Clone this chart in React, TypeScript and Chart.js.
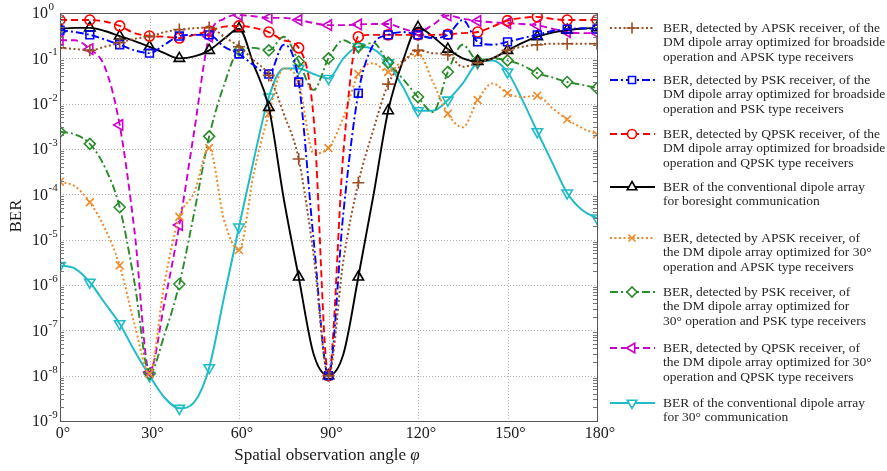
import React, { useEffect, useRef } from 'react';
import { Chart, registerables } from 'chart.js';
import { drawPoint } from 'chart.js/helpers';

Chart.register(...registerables);

// Spatial observation angle (degrees), sampled every 5°; markers at every 10°
const angles = [0, 5, 10, 15, 20, 25, 30, 35, 40, 45, 50, 55, 60, 65, 70, 75, 80, 85, 90, 95, 100, 105, 110, 115, 120, 125, 130, 135, 140, 145, 150, 155, 160, 165, 170, 175, 180];
const xTickValues = [0, 30, 60, 90, 120, 150, 180];
const xTickLabels = ['0°', '30°', '60°', '90°', '120°', '150°', '180°'];
const yDecadeExponents = [0, -1, -2, -3, -4, -5, -6, -7, -8, -9];

const berApskBroadside = [0.17, 0.16, 0.15, 0.18, 0.22, 0.27, 0.3, 0.38, 0.43, 0.46, 0.48, 0.3, 0.18, 0.09, 0.042, 0.006, 6e-4, 4.6e-6, 1e-8, 3.5e-6, 1.8e-4, 2.6e-3, 0.027, 0.08, 0.15, 0.13, 0.12, 0.065, 0.08, 0.1, 0.15, 0.18, 0.2, 0.21, 0.21, 0.21, 0.21];
const berPskBroadside = [0.42, 0.38, 0.33, 0.26, 0.2, 0.15, 0.13, 0.2, 0.31, 0.33, 0.33, 0.18, 0.125, 0.07, 0.045, 0.2, 0.03, 1e-5, 1e-8, 4e-5, 0.017, 0.2, 0.33, 0.38, 0.33, 0.28, 0.33, 0.7, 0.23, 0.2, 0.23, 0.28, 0.33, 0.4, 0.44, 0.46, 0.44];
const berQpskBroadside = [0.7, 0.7, 0.7, 0.65, 0.52, 0.36, 0.31, 0.3, 0.28, 0.33, 0.4, 0.5, 0.52, 0.47, 0.38, 0.25, 0.17, 5e-3, 1e-8, 8.5e-4, 0.3, 0.33, 0.33, 0.33, 0.33, 0.33, 0.34, 0.36, 0.38, 0.5, 0.68, 0.78, 0.82, 0.74, 0.7, 0.7, 0.7];
const berConvBoresight = [0.45, 0.47, 0.47, 0.4, 0.31, 0.24, 0.18, 0.13, 0.1, 0.11, 0.15, 0.27, 0.45, 0.07, 0.0083, 8e-5, 1.5e-6, 3e-8, 1e-8, 3e-8, 1.5e-6, 9e-5, 0.007, 0.09, 0.48, 0.3, 0.16, 0.1, 0.085, 0.1, 0.15, 0.22, 0.3, 0.37, 0.42, 0.45, 0.47];
const berApsk30 = [1.9e-4, 1.5e-4, 6.7e-5, 1.8e-5, 2.7e-6, 1.35e-7, 1.1e-8, 1.1e-6, 3.2e-5, 1.1e-4, 1.05e-3, 2.7e-5, 5.9e-6, 3e-4, 6e-3, 0.06, 0.03, 8e-4, 1.05e-3, 5e-3, 0.045, 0.078, 0.05, 0.09, 0.13, 0.03, 6e-3, 3e-3, 0.012, 0.028, 0.017, 0.014, 0.015, 8e-3, 4.5e-3, 2.9e-3, 2.1e-3];
const berPsk30 = [2.4e-3, 2.1e-3, 1.3e-3, 4e-4, 5.2e-5, 1.1e-6, 1.1e-8, 8e-8, 1.05e-6, 4e-5, 1.9e-3, 0.026, 0.15, 0.17, 0.15, 0.3, 0.085, 0.02, 0.1, 0.25, 0.18, 0.22, 0.08, 0.035, 0.014, 6.5e-3, 0.05, 0.2, 0.09, 0.1, 0.09, 0.07, 0.047, 0.038, 0.03, 0.026, 0.022];
const berQpsk30 = [0.25, 0.25, 0.16, 0.065, 3.4e-3, 1.5e-5, 1.2e-8, 4e-7, 2.1e-5, 2.5e-3, 0.3, 0.75, 0.9, 0.85, 0.78, 0.78, 0.7, 0.6, 0.54, 0.54, 0.56, 0.57, 0.57, 0.45, 0.38, 0.55, 0.88, 0.75, 0.67, 0.62, 0.6, 0.57, 0.54, 0.45, 0.38, 0.36, 0.36];
const berConv30 = [2.7e-6, 2.3e-6, 1.15e-6, 4e-7, 1.4e-7, 3.5e-8, 1e-8, 3.3e-9, 1.9e-9, 2.6e-9, 1.5e-8, 5.4e-7, 1.9e-5, 6e-4, 0.014, 0.06, 0.06, 0.045, 0.036, 0.1, 0.18, 0.16, 0.08, 0.023, 7e-3, 7e-3, 0.012, 0.028, 0.08, 0.09, 0.05, 0.012, 2.4e-3, 5e-4, 1.07e-4, 4.5e-5, 3e-5];

const legendTexts = [
  ['BER, detected by APSK receiver, of the', 'DM dipole array optimized for broadside', 'operation and APSK type receivers'],
  ['BER, detected by PSK receiver, of the', 'DM dipole array optimized for broadside', 'operation and PSK type receivers'],
  ['BER, detected by QPSK receiver, of the', 'DM dipole array optimized for broadside', 'operation and QPSK type receivers'],
  ['BER of the conventional dipole array', 'for boresight communication'],
  ['BER, detected by APSK receiver, of', 'the DM dipole array optimized for 30°', 'operation and APSK type receivers'],
  ['BER, detected by PSK receiver, of', 'the DM dipole array optimized for', '30° operation and PSK type receivers'],
  ['BER, detected by QPSK receiver, of', 'the DM dipole array optimized for 30°', 'operation and QPSK type receivers'],
  ['BER of the conventional dipole array', 'for 30° communication'],
];

const seriesValues = [berApskBroadside, berPskBroadside, berQpskBroadside, berConvBoresight, berApsk30, berPsk30, berQpsk30, berConv30];

const DOT = [2, 2.5];
const DASH = [7, 4];
const DASHDOT = [8, 3, 2, 3];
const styles = [
  { color: '#9A4E24', dash: DOT, point: 'cross', rot: 0, r: 6, w: 2 },
  { color: '#0000FF', dash: DASHDOT, point: 'rect', rot: 0, r: 5.5, w: 1.9 },
  { color: '#FF0000', dash: DASH, point: 'circle', rot: 0, r: 5, w: 1.9 },
  { color: '#000000', dash: [], point: 'triangle', rot: 0, r: 6, w: 1.9 },
  { color: '#EE8A2A', dash: DOT, point: 'crossRot', rot: 0, r: 5.5, w: 2 },
  { color: '#2A8C2A', dash: DASHDOT, point: 'rectRot', rot: 0, r: 5.5, w: 1.9 },
  { color: '#CC00CC', dash: DASH, point: 'triangle', rot: -90, r: 6, w: 1.9 },
  { color: '#20BCC8', dash: [], point: 'triangle', rot: 180, r: 6, w: 2 },
];

const SERIF = '"Liberation Serif", "DejaVu Serif", serif';
const legendFirstLineY = [28, 80, 134, 187, 238, 292, 348, 403];

const decorPlugin = {
  id: 'decor',
  beforeDatasetsDraw(chart: any) {
    const { ctx, chartArea: a, scales } = chart;
    const x = scales.x, y = scales.y;
    ctx.save();
    ctx.strokeStyle = '#b4b4b4';
    ctx.lineWidth = 1;
    ctx.setLineDash([1, 2]);
    for (const t of xTickValues) {
      const px = Math.round(x.getPixelForValue(t)) + 0.5;
      ctx.beginPath(); ctx.moveTo(px, a.top); ctx.lineTo(px, a.bottom); ctx.stroke();
    }
    for (const d of yDecadeExponents) {
      const py = Math.round(y.getPixelForValue(Math.pow(10, d))) + 0.5;
      ctx.beginPath(); ctx.moveTo(a.left, py); ctx.lineTo(a.right, py); ctx.stroke();
    }
    ctx.restore();
  },
  afterDatasetsDraw(chart: any) {
    const { ctx, chartArea: a, scales } = chart;
    const x = scales.x, y = scales.y;
    ctx.save();
    ctx.setLineDash([]);
    // frame
    ctx.strokeStyle = '#555';
    ctx.lineWidth = 1;
    ctx.strokeRect(Math.round(a.left) + 0.5, Math.round(a.top) + 0.5, Math.round(a.right - a.left), Math.round(a.bottom - a.top));
    // minor ticks on log axis
    ctx.strokeStyle = '#777';
    for (let d = -9; d < 0; d++) {
      for (let k = 2; k <= 9; k++) {
        const py = Math.round(y.getPixelForValue(k * Math.pow(10, d))) + 0.5;
        ctx.beginPath(); ctx.moveTo(a.left, py); ctx.lineTo(a.left + 4, py); ctx.stroke();
        ctx.beginPath(); ctx.moveTo(a.right - 4, py); ctx.lineTo(a.right, py); ctx.stroke();
      }
    }
    // y tick labels
    ctx.fillStyle = '#1a1a1a';
    ctx.textBaseline = 'middle';
    ctx.textAlign = 'left';
    for (const d of yDecadeExponents) {
      const py = y.getPixelForValue(Math.pow(10, d));
      ctx.font = `16px ${SERIF}`;
      ctx.fillText('10', 32, py + 1);
      const w = ctx.measureText('10').width;
      ctx.font = `11px ${SERIF}`;
      ctx.fillText(String(d), 32 + w + 0.5, py - 6);
    }
    // x tick labels
    ctx.font = `16px ${SERIF}`;
    ctx.textAlign = 'center';
    xTickValues.forEach((t, i) => {
      ctx.fillText(xTickLabels[i], x.getPixelForValue(t) + 3, 434);
    });
    // x title
    ctx.font = `17px ${SERIF}`;
    const t1 = 'Spatial observation angle ';
    const w1 = ctx.measureText(t1).width;
    ctx.font = `italic 17px ${SERIF}`;
    const w2 = ctx.measureText('φ').width;
    const sx = 327 - (w1 + w2) / 2;
    ctx.textAlign = 'left';
    ctx.font = `17px ${SERIF}`;
    ctx.fillText(t1, sx, 456);
    ctx.font = `italic 17px ${SERIF}`;
    ctx.fillText('φ', sx + w1, 456);
    // y title
    ctx.save();
    ctx.translate(17, 216);
    ctx.rotate(-Math.PI / 2);
    ctx.textAlign = 'center';
    ctx.font = `17px ${SERIF}`;
    ctx.fillText('BER', 0, 0);
    ctx.restore();
    // legend
    styles.forEach((s, i) => {
      const ly = legendFirstLineY[i];
      ctx.strokeStyle = s.color;
      ctx.lineWidth = s.w;
      ctx.setLineDash(s.dash);
      ctx.beginPath(); ctx.moveTo(610, ly); ctx.lineTo(655, ly); ctx.stroke();
      ctx.setLineDash([]);
      ctx.lineWidth = 1.6;
      ctx.fillStyle = 'rgba(255,255,255,1)';
      drawPoint(ctx, { pointStyle: s.point, rotation: s.rot, radius: s.r - 0.5, borderWidth: 1.6 } as any, 632, ly);
      ctx.fillStyle = '#262626';
      ctx.font = `13.5px ${SERIF}`;
      ctx.textAlign = 'left';
      ctx.textBaseline = 'middle';
      legendTexts[i].forEach((line, j) => {
        ctx.fillText(line, 663, ly + j * 14.6);
      });
    });
    ctx.restore();
  },
};

export default function App() {
  const ref = useRef<HTMLCanvasElement | null>(null);
  useEffect(() => {
    if (!ref.current) return;
    const datasets = seriesValues.map((vals, i) => {
      const s = styles[i];
      return {
        label: legendTexts[i].join(' '),
        data: angles.map((a, k) => ({ x: a, y: vals[k] })),
        borderColor: s.color,
        backgroundColor: s.color,
        borderWidth: s.w,
        borderDash: s.dash,
        pointStyle: s.point,
        pointRotation: s.rot,
        pointRadius: (c: any) => (c.raw && c.raw.x % 10 === 0 ? s.r : 0),
        pointBorderColor: s.color,
        pointBackgroundColor: 'rgba(255,255,255,0)',
        pointBorderWidth: 1.6,
        cubicInterpolationMode: 'monotone',
        fill: false,
      };
    });
    const chart = new Chart(ref.current, {
      type: 'line',
      data: { datasets } as any,
      options: {
        animation: false,
        responsive: false,
        devicePixelRatio: 1,
        events: [],
        layout: { padding: { left: 60, top: 13, right: 290, bottom: 50 } },
        plugins: { legend: { display: false }, tooltip: { enabled: false } },
        scales: {
          x: { type: 'linear', min: 0, max: 180, display: false },
          y: { type: 'logarithmic', min: 1e-9, max: 1, display: false },
        },
      } as any,
      plugins: [decorPlugin as any],
    });
    return () => chart.destroy();
  }, []);
  return (
    <div style={{ position: 'absolute', left: 0, top: 0, width: 887, height: 471, background: '#fff' }}>
      <canvas ref={ref} width={887} height={471} style={{ display: 'block' }} />
    </div>
  );
}
